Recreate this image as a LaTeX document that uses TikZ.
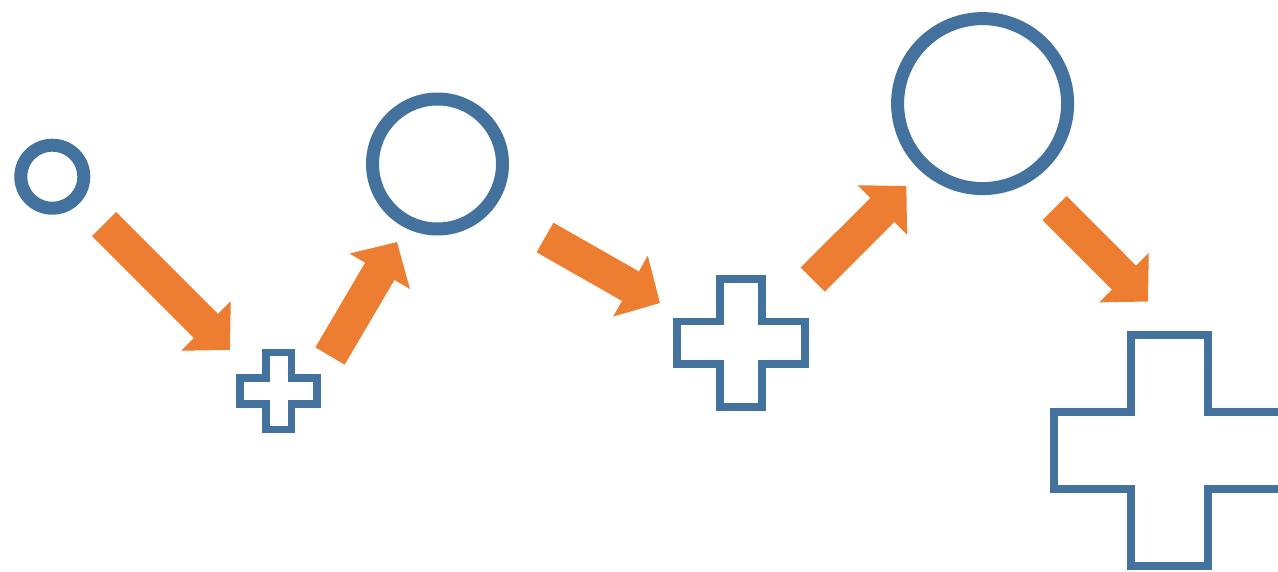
\documentclass[tikz,border=0pt]{standalone}
\usetikzlibrary{arrows.meta}
\definecolor{shapeblue}{RGB}{66,114,157}
\definecolor{arroworange}{RGB}{237,125,49}
\begin{document}
\begin{tikzpicture}[x=0.5pt,y=-0.5pt,
  ring/.style={circle, draw=shapeblue, line width=6.5pt, inner sep=0pt, outer sep=0pt},
  plusline/.style={draw=shapeblue, line width=3.9pt, line join=miter},
  flow/.style={draw=arroworange, line width=17pt, -{Triangle[length=17pt,width=34pt]}}]
\useasboundingbox (0,0) rectangle (1278,572);
\clip (0,0) rectangle (1278,572);
% circles
\node[ring, minimum size=31.5pt] (c1) at (52.3,176.7) {};
\node[ring, minimum size=65pt] (c2) at (437.5,164) {};
\node[ring, minimum size=85pt] (c3) at (982.6,103.6) {};
% crosses
\coordinate (p1) at (278.7,391);
\coordinate (p2) at (741,342.8);
\coordinate (p3) at (1169.8,450.8);
\draw[plusline, shift={(p1)}, scale=12.85] (-1,-3) -- (1,-3) -- (1,-1) -- (3,-1) -- (3,1) -- (1,1) -- (1,3) -- (-1,3) -- (-1,1) -- (-3,1) -- (-3,-1) -- (-1,-1) -- cycle;
\draw[plusline, shift={(p2)}, scale=21.33] (-1,-3) -- (1,-3) -- (1,-1) -- (3,-1) -- (3,1) -- (1,1) -- (1,3) -- (-1,3) -- (-1,1) -- (-3,1) -- (-3,-1) -- (-1,-1) -- cycle;
\draw[plusline, shift={(p3)}, scale=38.5] (-1,-3) -- (1,-3) -- (1,-1) -- (3,-1) -- (3,1) -- (1,1) -- (1,3) -- (-1,3) -- (-1,1) -- (-3,1) -- (-3,-1) -- (-1,-1) -- cycle;
% arrows
\coordinate (a1s) at (104,224);   \coordinate (a1e) at (230,350);
\coordinate (a2s) at (330,356);   \coordinate (a2e) at (397,242);
\coordinate (a3s) at (545,237.5); \coordinate (a3e) at (660,303);
\coordinate (a4s) at (812.7,279.5); \coordinate (a4e) at (906.4,186);
\coordinate (a5s) at (1054.5,208); \coordinate (a5e) at (1148,301.6);
\draw[flow] (a1s) -- (a1e);
\draw[flow] (a2s) -- (a2e);
\draw[flow] (a3s) -- (a3e);
\draw[flow] (a4s) -- (a4e);
\draw[flow] (a5s) -- (a5e);
\end{tikzpicture}
\end{document}
